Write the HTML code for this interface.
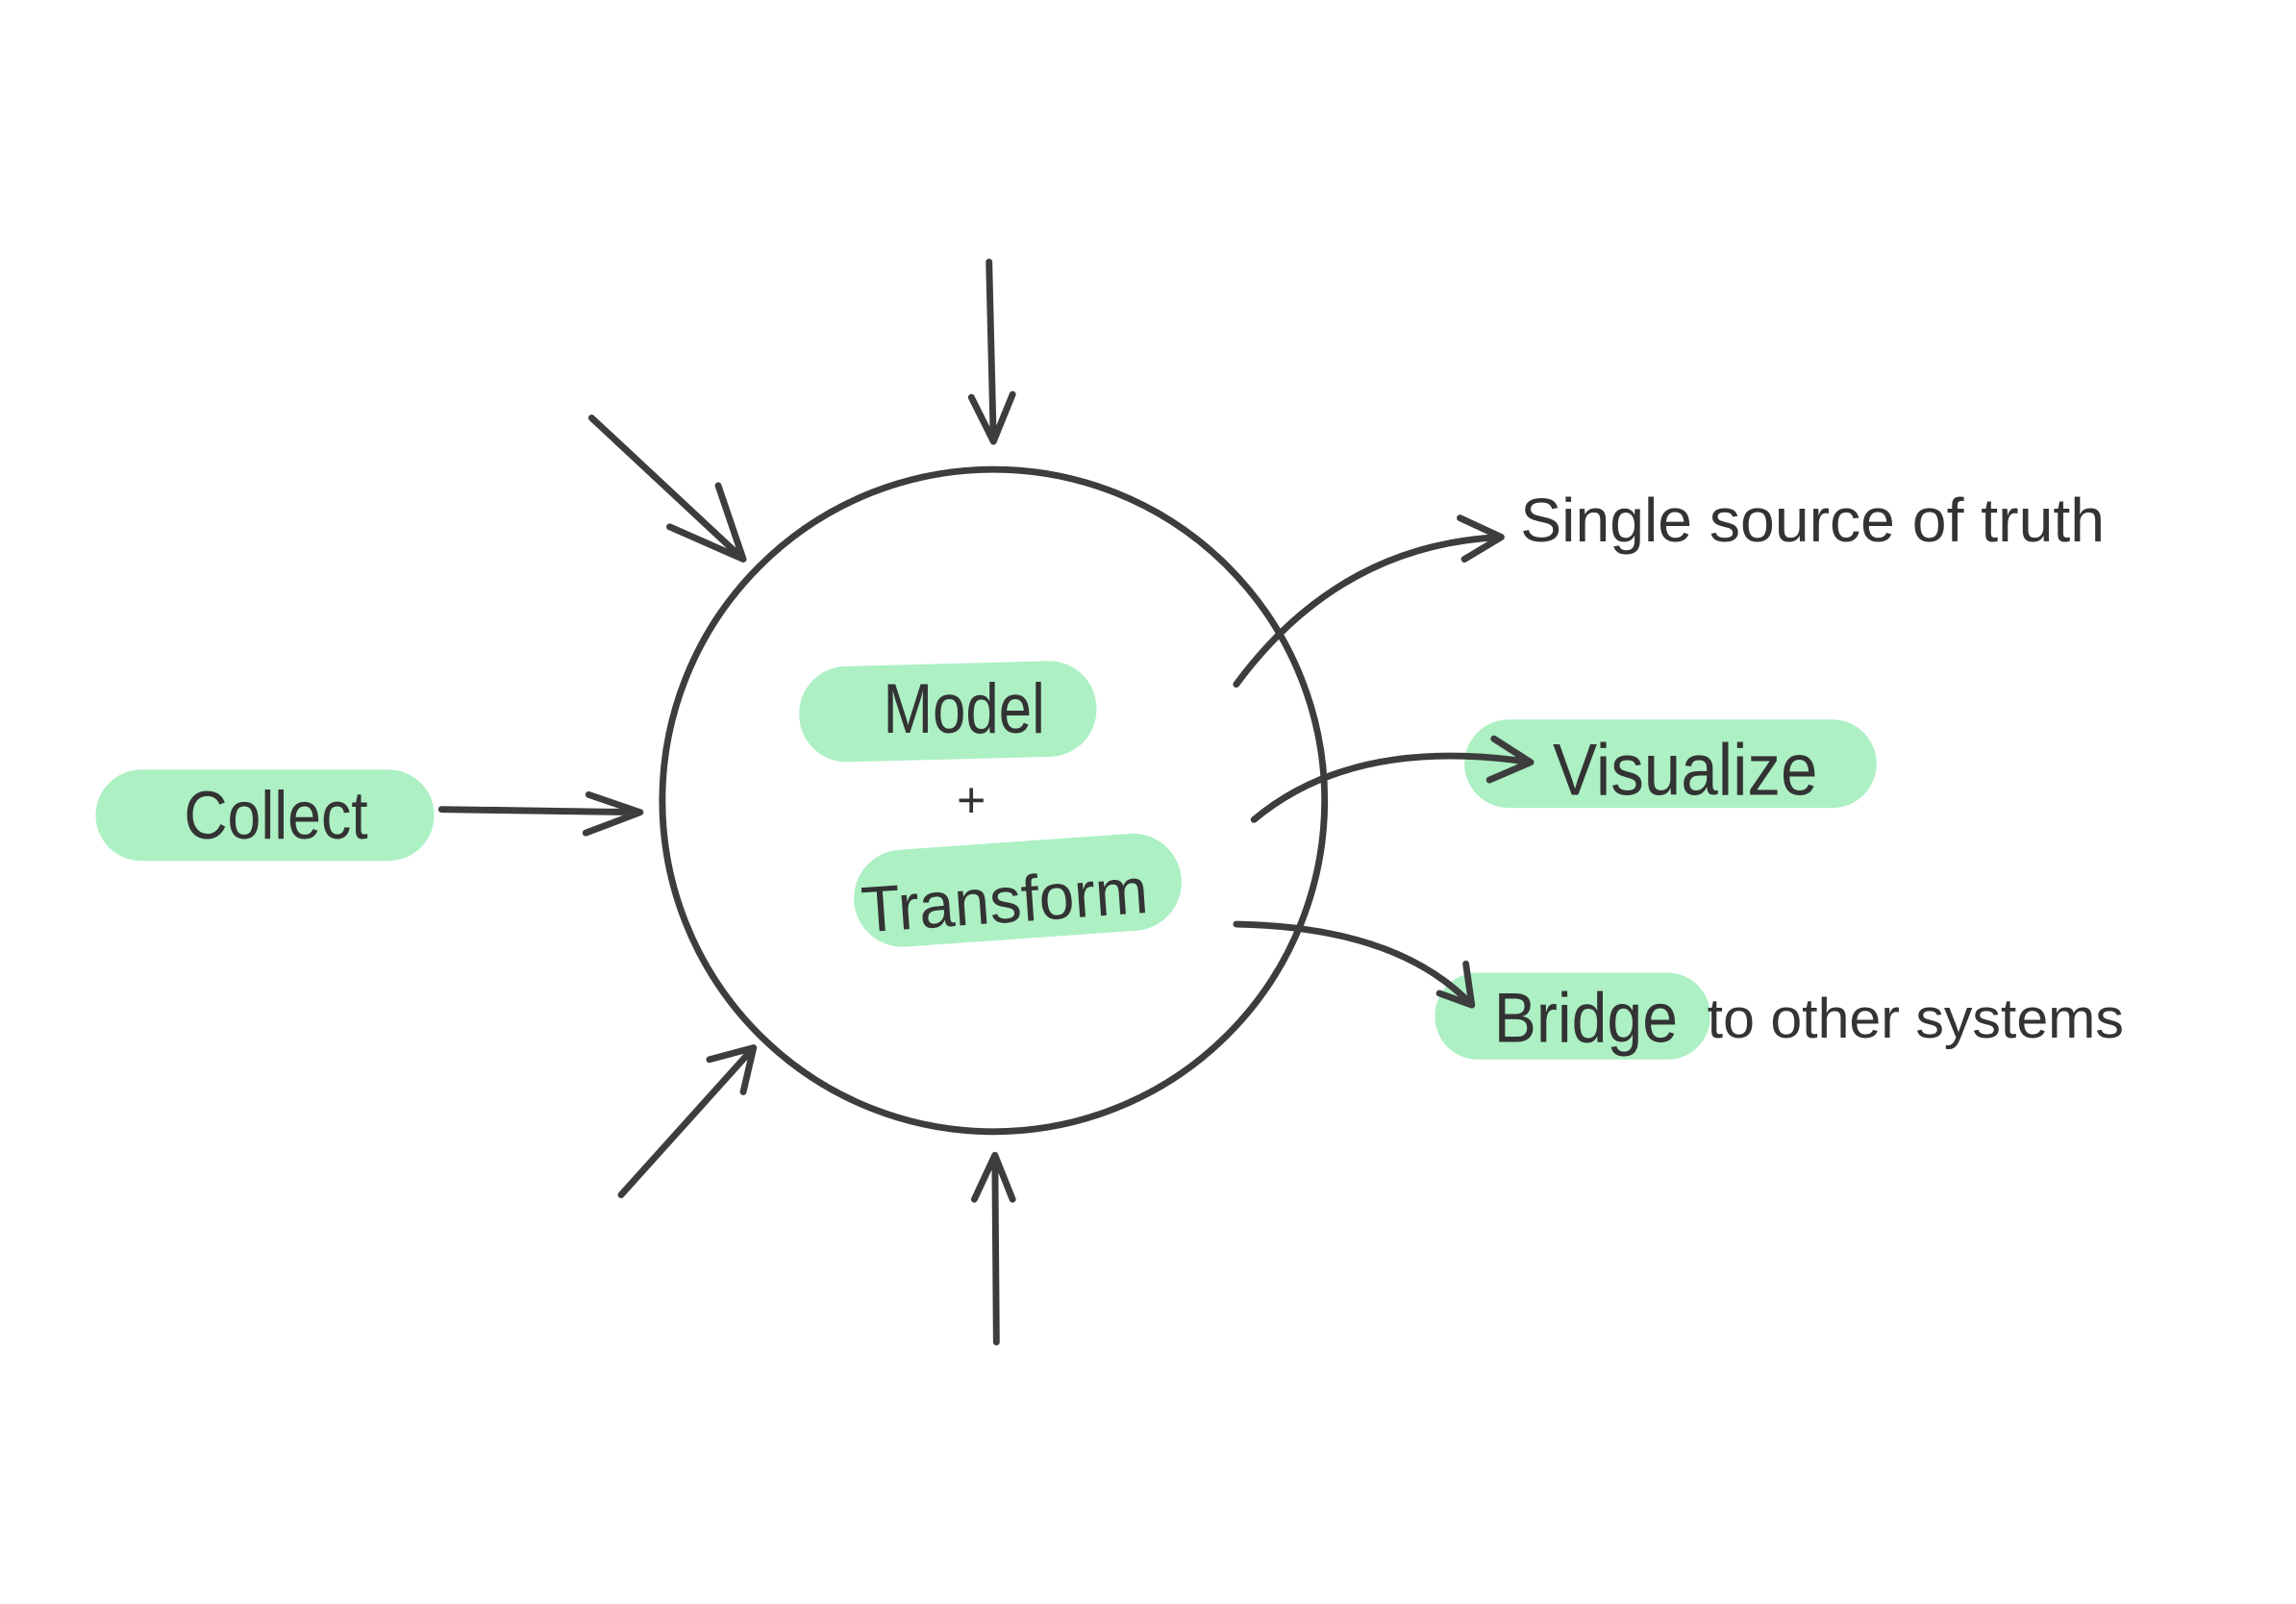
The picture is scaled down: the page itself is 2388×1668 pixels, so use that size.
<!DOCTYPE html>
<html><head><meta charset="utf-8"><style>
html,body{margin:0;padding:0;background:#fff;width:2388px;height:1668px;overflow:hidden}
svg{display:block}
text{font-family:"Liberation Sans Narrow","Liberation Sans",sans-serif;fill:#333}
</style></head><body>
<svg width="2388" height="1668" viewBox="0 0 1560 1090" preserveAspectRatio="none" xmlns="http://www.w3.org/2000/svg">
<g fill="#adf0c4">
<rect x="65" y="523" width="230" height="62" rx="31"/>
<rect x="543" y="451" width="202" height="65" rx="32" transform="rotate(-1.5 644 483)"/>
<rect x="580" y="572" width="223" height="66" rx="33" transform="rotate(-4 691 605)"/>
<rect x="995" y="489" width="280" height="60" rx="30"/>
<rect x="975" y="661" width="187" height="59" rx="29"/>
</g>
<g fill="none" stroke="#3d3d3d" stroke-width="4.5" stroke-linecap="round" stroke-linejoin="round">
<ellipse cx="675" cy="544" rx="225" ry="225"/>
<path d="M672 178 L675 300 M660 270 L675 300 L688 268"/>
<path d="M402 284 L505 380 M455 358 L505 380 L488 330"/>
<path d="M300 550 L435 552 M400 540 L435 552 L398 566"/>
<path d="M422 812 L512 712 M482 720 L512 712 L505 742"/>
<path d="M677 912 L676 785 M662 815 L676 785 L688 815"/>
<path d="M840 465 Q910 370 1020 365 M992 352 L1020 365 L995 380"/>
<path d="M852 557 Q920 500 1040 518 M1015 502 L1040 518 L1012 530"/>
<path d="M840 628 Q950 630 1000 683 M996 655 L1000 683 L978 675"/>
</g>
<text x="600" y="498" font-size="48" textLength="110" lengthAdjust="spacingAndGlyphs">Model</text>
<text x="650" y="555" font-size="34">+</text>
<text x="585" y="627" font-size="44" textLength="195" lengthAdjust="spacingAndGlyphs" transform="rotate(-4 680 610)">Transform</text>
<text x="125" y="570" font-size="46" textLength="125" lengthAdjust="spacingAndGlyphs">Collect</text>
<text x="1055" y="540" font-size="50" textLength="180" lengthAdjust="spacingAndGlyphs">Visualize</text>
<text x="1015" y="708" font-size="48" textLength="125" lengthAdjust="spacingAndGlyphs">Bridge</text>
<text x="1160" y="705" font-size="38" textLength="283" lengthAdjust="spacingAndGlyphs">to other systems</text>
<text x="1033" y="368" font-size="42" textLength="397" lengthAdjust="spacingAndGlyphs">Single source of truth</text>
</svg>
</body></html>
